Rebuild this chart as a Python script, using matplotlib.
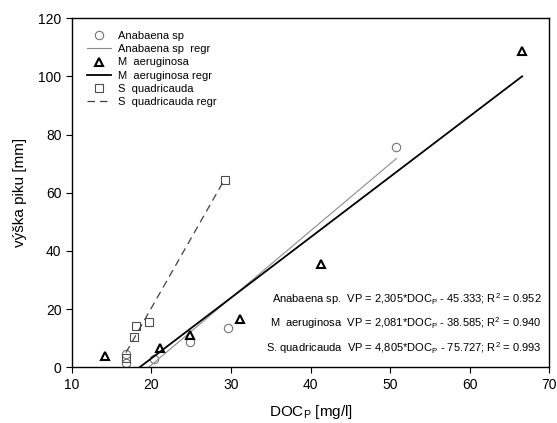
import numpy as np
import matplotlib as mpl
import matplotlib.pyplot as plt

mpl.rcParams['font.family'] = ['Liberation Sans', 'DejaVu Sans']
mpl.rcParams['mathtext.fontset'] = 'custom'
mpl.rcParams['mathtext.rm'] = 'Liberation Sans'
mpl.rcParams['mathtext.it'] = 'Liberation Sans'

# ===== Data =====
ana_x = [16.8, 16.8, 20.3, 24.9, 29.6, 50.8]
ana_y = [4.5, 1.5, 2.8, 8.5, 13.3, 75.8]

mae_x = [14.2, 21.1, 24.8, 31.1, 41.3, 66.6]
mae_y = [3.8, 6.6, 11.0, 16.7, 35.4, 108.7]

squ_x = [16.8, 17.8, 18.1, 19.7, 29.2]
squ_y = [3.0, 10.5, 14.2, 15.4, 64.5]

# regression (slope, intercept, R2)
ana_fit = (2.305, -45.333, 0.952)
mae_fit = (2.081, -38.585, 0.940)
squ_fit = (4.805, -75.727, 0.993)

fig = plt.figure(figsize=(5.57, 4.23), dpi=100)
ax = fig.add_axes([0.129, 0.132, 0.857, 0.825])


def regr(xs, fit):
    xx = np.array([min(xs), max(xs)])
    return xx, fit[0] * xx + fit[1]


ax.plot(ana_x, ana_y, 'o', mfc='none', mec='0.45', ms=6, mew=0.8,
        label='Anabaena sp')
xx, yy = regr(ana_x, ana_fit)
ax.plot(xx, yy, '-', color='0.55', lw=0.8, label='Anabaena sp  regr')

ax.plot(mae_x, mae_y, '^', mfc='none', mec='black', ms=6, mew=1.5,
        label='M  aeruginosa')
xx, yy = regr(mae_x, mae_fit)
ax.plot(xx, yy, '-', color='black', lw=1.3, label='M  aeruginosa regr')

ax.plot(squ_x, squ_y, 's', mfc='none', mec='0.3', ms=6, mew=0.8,
        label='S  quadricauda')
xx, yy = regr(squ_x, squ_fit)
ax.plot(xx, yy, '--', color='0.25', lw=0.9, dashes=(6, 4),
        label='S  quadricauda regr')

ax.set_xlim(10, 70)
ax.set_ylim(0, 120)
ax.set_xticks(range(10, 71, 10))
ax.set_yticks(range(0, 121, 20))
ax.tick_params(direction='out', labelsize=10, length=4, top=False, right=False)
for s in ax.spines.values():
    s.set_linewidth(1.0)

ax.set_xlabel(r'DOC$_\mathrm{P}$ [mg/l]', fontsize=11, labelpad=8)
ax.set_ylabel('výška piku [mm]', fontsize=11, labelpad=8)

ax.legend(loc='upper left', frameon=False, fontsize=8,
          bbox_to_anchor=(0.015, 0.985), handlelength=2.2,
          labelspacing=0.28, borderaxespad=0.3, handletextpad=0.6)

# ===== Equations =====
names = ['Anabaena sp.', 'M  aeruginosa', 'S. quadricauda']
fits = [ana_fit, mae_fit, squ_fit]
for i, (name, f) in enumerate(zip(names, fits)):
    slope = f'{f[0]:.3f}'.replace('.', ',')
    txt = (f'{name}  VP = {slope}*DOC$_\\mathrm{{P}}$ - {abs(f[1]):.3f}; '
           f'R$^2$ = {f[2]:.3f}')
    ax.text(0.985, 0.195 - i * 0.07, txt, transform=ax.transAxes,
            ha='right', va='center', fontsize=8)

plt.savefig('out.png', dpi=100)
